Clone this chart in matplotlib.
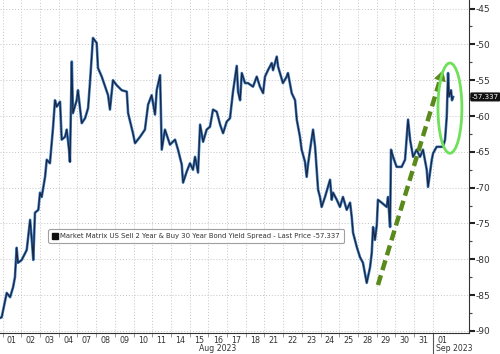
import matplotlib
matplotlib.use("Agg")
import matplotlib.pyplot as plt
from matplotlib.patches import Ellipse
from matplotlib.lines import Line2D

# trading day index (day k spans k..k+1) and spread values (bp)
day_pos = [-0.14, -0.05, 0.22, 0.40, 0.56, 0.66, 0.75, 0.82, 1.02, 1.29, 1.47, 1.56, 1.64, 1.73, 1.91,
           2.00, 2.09, 2.27, 2.36, 2.53, 2.70, 2.80, 2.89, 3.07, 3.16, 3.34, 3.43, 3.55, 3.60, 3.70,
           3.76, 3.96, 4.03, 4.23, 4.41, 4.57, 4.67, 4.83, 5.03, 5.10, 5.30, 5.48, 5.64, 5.74, 5.90,
           6.10, 6.37, 6.64, 6.71, 6.97, 7.08, 7.35, 7.61, 7.78, 7.97, 8.15, 8.24, 8.42, 8.51, 8.68,
           8.95, 9.22, 9.38, 9.58, 9.65, 9.84, 10.02, 10.18, 10.29, 10.45, 10.56, 10.72, 10.91, 11.09,
           11.25, 11.45, 11.63, 11.79, 11.98, 12.16, 12.32, 12.52, 12.59, 12.70, 12.79, 12.96, 13.12,
           13.39, 13.59, 13.76, 13.93, 14.03, 14.19, 14.39, 14.46, 14.66, 14.73, 14.83, 14.99, 15.19,
           15.26, 15.46, 15.64, 15.73, 15.90, 15.99, 16.17, 16.26, 16.33, 16.44, 16.60, 16.71, 16.87,
           16.97, 17.06, 17.24, 17.51, 17.60, 17.67, 17.87, 18.04, 18.20, 18.40, 18.58, 18.67, 18.74,
           18.94, 19.11, 19.27, 19.47, 19.65, 19.74, 19.81, 19.91, 20.01, 20.07, 20.27, 20.54, 20.61,
           20.72, 20.77, 20.88, 21.07, 21.34, 21.52, 21.68, 21.79, 21.95, 22.14, 22.32, 22.48, 22.68,
           22.75, 22.95, 23.02, 23.21, 23.39, 23.55, 23.66, 23.75, 23.82, 23.87, 23.98, 24.03, 24.09]
spread = [-88.2, -88.1, -84.7, -85.3, -83.9, -82.5, -78.4, -80.5, -80.1, -78.7, -74.5, -77.3, -80.1, -73.5, -73.1,
          -70.7, -71.3, -68.5, -66.1, -66.6, -61.5, -57.8, -58.7, -58.0, -63.3, -62.9, -61.9, -64.7, -66.4, -52.4,
          -59.6, -57.8, -56.4, -61.0, -60.3, -58.9, -55.4, -49.1, -49.8, -53.3, -54.5, -55.9, -57.1, -59.1, -55.0,
          -55.7, -56.4, -56.6, -59.6, -62.4, -63.8, -62.9, -61.9, -58.4, -57.1, -59.8, -56.4, -54.3, -64.7, -61.9,
          -64.0, -63.3, -64.7, -66.8, -69.3, -67.8, -66.6, -67.5, -65.7, -67.9, -61.2, -63.6, -61.9, -61.5,
          -59.1, -59.4, -61.2, -62.4, -60.8, -60.3, -56.6, -53.0, -56.6, -57.8, -54.0, -55.4, -55.4,
          -55.9, -54.5, -55.9, -56.8, -54.5, -53.6, -52.6, -53.6, -51.7, -53.1, -54.0, -55.4, -54.5,
          -54.0, -56.8, -57.8, -60.5, -62.9, -64.7, -66.4, -68.5, -66.8, -64.7, -61.9, -64.3, -70.3,
          -71.3, -72.7, -71.3, -68.9, -71.7, -70.7, -71.7, -72.7, -71.3, -73.1, -72.1, -74.1, -76.3,
          -78.3, -79.7, -80.5, -83.3, -81.1, -79.1, -75.5, -77.3, -75.2, -71.7, -72.1, -72.7, -71.3,
          -75.5, -64.7, -65.7, -67.1, -67.1, -66.1, -60.5, -63.3, -65.7, -64.7, -65.7, -64.7, -67.5,
          -69.9, -66.1, -65.2, -64.3, -64.3, -64.3, -63.3, -60.1, -54.0, -57.3, -56.4, -57.8, -57.337]

day_labels = ['01', '02', '03', '04', '07', '08', '09', '10', '11', '14', '15', '16',
              '17', '18', '21', '22', '23', '24', '25', '28', '29', '30', '31', '01']
y_ticks = [-45, -50, -55, -60, -65, -70, -75, -80, -85, -90]
last_price = -57.337
series_name = "Market Matrix US Sell 2 Year & Buy 30 Year Bond Yield Spread - Last Price -57.337"

fig = plt.figure(figsize=(5, 3.54), dpi=100)
ax = fig.add_axes([0.0, 0.0593, 0.938, 0.9407])

ax.plot(day_pos, spread, color='#3f7fc4', lw=1.9, zorder=3)
ax.plot(day_pos, spread, color='#1b2540', lw=0.9, zorder=4)

ax.set_xlim(-0.14, 24.94)
ax.set_ylim(-90.3, -43.8)

# x axis: labels in the middle of each day, boundaries as minor ticks/grid
ax.set_xticks([i + 0.5 for i in range(len(day_labels))])
ax.set_xticklabels(day_labels, fontsize=5.8, color='#333333')
ax.set_xticks(range(len(day_labels)), minor=True)
ax.tick_params(axis='x', which='major', length=0, pad=2)
ax.tick_params(axis='x', which='minor', length=3, color='#888888')
ax.grid(True, axis='x', which='minor', color='#c4c4c4', lw=0.7, ls=(0, (1, 2)))

ax.yaxis.tick_right()
ax.set_yticks(y_ticks)
ax.set_yticklabels([str(t) for t in y_ticks], fontsize=6.5, color='#333333')
ax.set_yticks([t - 2.5 for t in y_ticks[:-1]], minor=True)
ax.tick_params(axis='y', which='major', length=4, width=1.5, color='#222222', pad=1)
ax.tick_params(axis='y', which='minor', length=2, width=0.8, color='#444444')
ax.grid(True, axis='y', which='major', color='#c4c4c4', lw=0.7, ls=(0, (1, 2)))

for s in ['left', 'top']:
    ax.spines[s].set_visible(False)
ax.spines['right'].set_color('#333333')
ax.spines['bottom'].set_color('#333333')
ax.spines['right'].set_linewidth(0.8)
ax.spines['bottom'].set_linewidth(0.8)

# month captions and separator
xt = ax.get_xaxis_transform()
ax.annotate('Aug 2023', xy=(11.5, 0), xycoords=xt, xytext=(0, -8.2), textcoords='offset points',
            fontsize=5.6, color='#333333', ha='center', va='top')
ax.annotate('Sep 2023', xy=(23.2, 0), xycoords=xt, xytext=(0, -8.2), textcoords='offset points',
            fontsize=5.6, color='#333333', ha='left', va='top')
ax.plot([23, 23], [0, -0.07], transform=xt, color='#555555', lw=0.8, clip_on=False)

# last price tag
ax.annotate(f'{last_price:.3f}', xy=(1.0, last_price), xycoords=('axes fraction', 'data'),
            xytext=(2, 0), textcoords='offset points', fontsize=5, color='white', va='center',
            ha='left', bbox=dict(boxstyle='round,pad=0.12', fc='#111111', ec='#111111'))

# green dashed arrow and circle
tail = (20.07, -83.6)
tip = (23.55, -53.6)
ax.plot([tail[0], 23.35], [tail[1], -55.3], color='#5a8a1c', lw=3.2, ls=(0, (2.3, 1.2)),
        solid_capstyle='butt', zorder=5)
ax.annotate('', xy=tip, xytext=(23.35, -55.3),
            arrowprops=dict(arrowstyle='-|>,head_length=0.7,head_width=0.4', color='#5a8a1c',
                            lw=0.5, shrinkA=0, shrinkB=0), zorder=5)
ax.add_patch(Ellipse((23.92, -58.9), 1.28, 12.6, fill=False, ec='#6ee05a', lw=2, zorder=6))

handle = Line2D([], [], marker='s', color='#111111', ls='none', markersize=4.5)
leg = ax.legend([handle], [series_name], loc='upper left', bbox_to_anchor=(0.096, 0.322),
                fontsize=4.95, frameon=True, fancybox=True, handlelength=0.8, handletextpad=0.4,
                borderpad=0.55, labelcolor='#333333')
leg.get_frame().set_edgecolor('#888888')
leg.get_frame().set_linewidth(0.8)

fig.savefig('out.png', dpi=100)
